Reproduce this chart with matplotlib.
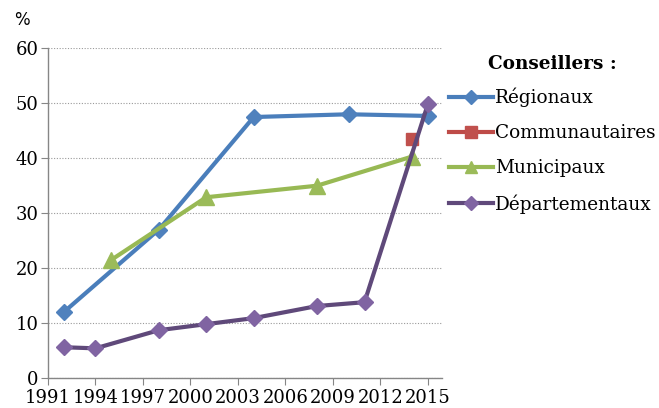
import matplotlib
matplotlib.use("Agg")
import matplotlib.pyplot as plt
from matplotlib.lines import Line2D

# --- data ---
reg_years = [1992, 1998, 2004, 2010, 2015]
reg_vals = [12.0, 27.0, 47.5, 48.0, 47.7]

com_years = [2014]
com_vals = [43.5]

mun_years = [1995, 2001, 2008, 2014]
mun_vals = [21.5, 32.9, 35.0, 40.3]

dep_years = [1992, 1994, 1998, 2001, 2004, 2008, 2011, 2015]
dep_vals = [5.6, 5.4, 8.7, 9.8, 10.9, 13.1, 13.8, 49.8]

xticks = list(range(1991, 2016, 3))
yticks = [0, 10, 20, 30, 40, 50, 60]

plt.rcParams['font.family'] = ['DejaVu Serif']

fig = plt.figure(figsize=(6.59, 4.08), dpi=100)
ax = fig.add_axes([0.0728, 0.0735, 0.598, 0.808])

lw = 3.0
ax.plot(reg_years, reg_vals, color="#4A7EBB", lw=lw, marker="D", ms=8,
        mfc="#4F81BD", mec="#4F81BD", zorder=3)
ax.plot(mun_years, mun_vals, color="#98B954", lw=lw, marker="^", ms=11,
        mfc="#9BBB59", mec="#9BBB59", zorder=3.5)
ax.plot(com_years, com_vals, color="#BE4B48", lw=lw, marker="s", ms=9,
        mfc="#C0504D", mec="#C0504D", ls="none", zorder=3)
ax.plot(dep_years, dep_vals, color="#5F497A", lw=lw, marker="D", ms=8,
        mfc="#8064A2", mec="#8064A2", zorder=4)

ax.set_xlim(1991, 2015.9)
ax.set_ylim(0, 60)
ax.set_xticks(xticks)
ax.set_yticks(yticks)
ax.tick_params(axis="both", labelsize=13, direction="out", length=5,
               color="#868686", pad=2)
ax.tick_params(axis="x", pad=3)
ax.yaxis.grid(True, ls=(0, (1, 1.5)), color="#9A9A9A", lw=0.8)
ax.set_axisbelow(True)
for s in ["top", "right"]:
    ax.spines[s].set_visible(False)
for s in ["left", "bottom"]:
    ax.spines[s].set_color("#868686")
    ax.spines[s].set_linewidth(1.0)

fig.text(0.022, 0.951, "%", fontsize=12, ha="left", va="center",
         family="DejaVu Sans")

handles = [
    Line2D([], [], color="#4A7EBB", lw=lw, marker="D", ms=7, mfc="#4F81BD", mec="#4F81BD"),
    Line2D([], [], color="#BE4B48", lw=lw, marker="s", ms=8, mfc="#C0504D", mec="#C0504D"),
    Line2D([], [], color="#98B954", lw=lw, marker="^", ms=9, mfc="#9BBB59", mec="#9BBB59"),
    Line2D([], [], color="#5F497A", lw=lw, marker="D", ms=7, mfc="#8064A2", mec="#8064A2"),
]
labels = ["Régionaux", "Communautaires", "Municipaux", "Départementaux"]
leg = fig.legend(handles, labels, loc="upper left", bbox_to_anchor=(0.661, 0.898),
                 frameon=False, fontsize=13.3, handlelength=2.4, handletextpad=0.1,
                 labelspacing=0.92, borderpad=0.2, title="Conseillers :",
                 title_fontproperties={"weight": "bold", "size": 13.3})
leg._legend_box.align = "center"
leg._legend_box.sep = 11

fig.savefig("out.png", dpi=100)
